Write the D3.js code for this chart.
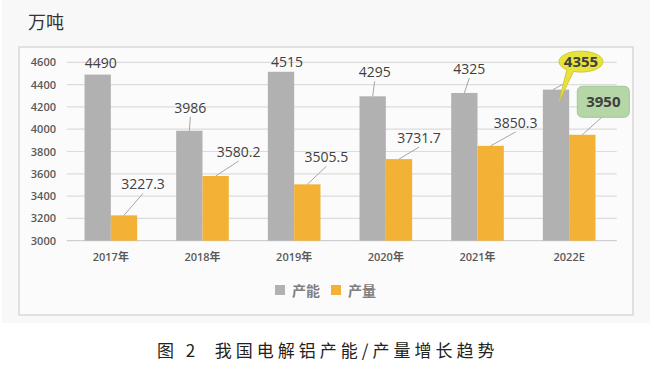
<!DOCTYPE html>
<html>
<head>
<meta charset="utf-8">
<script src="https://cdn.jsdelivr.net/npm/d3@7"></script>
<style>
  body { margin: 0; background: #fff; }
  svg { display: block; }
</style>
</head>
<body>
<svg id="chart" width="654" height="380"></svg>
<script>
const years = ["2017年", "2018年", "2019年", "2020年", "2021年", "2022E"]
const series = ["产能", "产量"]
const capacity = [4490, 3986, 4515, 4295, 4325, 4355]
const output = [3227.3, 3580.2, 3505.5, 3731.7, 3850.3, 3950]
const yTicks = [3000, 3200, 3400, 3600, 3800, 4000, 4200, 4400, 4600]

// label placement relative to bar top (dx, dy), and whether a leader line is drawn
const capLabelPos = [[3, -12, false], [1, -23, true], [6, -10, false], [2, -24, true], [5, -24, true], [25, -28, true]]
const outLabelPos = [[19, -31, true], [23, -24, true], [19, -27, true], [20, -21, true], [25, -23, true], [21, -33, true]]

const colours = ["#b1b1b2", "#f3b136"]

const svg = d3.select("#chart")

// page background + chart box
svg.append("rect").attr("x", 2).attr("y", 0).attr("width", 648).attr("height", 323).attr("fill", "#f8f8f8")
svg.append("rect").attr("x", 19).attr("y", 47).attr("width", 614).attr("height", 268)
  .attr("fill", "#fbfbfb").attr("stroke", "#d9d9d9").attr("stroke-width", 1.5)

svg.append("text").attr("x", 28).attr("y", 29)
  .attr("font-family", "Noto Sans CJK SC").attr("font-size", 18).attr("fill", "#333")
  .text("万吨")

const x = d3.scaleBand().domain(years).range([65, 615]).paddingInner(0.426).paddingOuter(0.213)
const xs = d3.scaleBand().domain(series).range([0, x.bandwidth()])
const y = d3.scaleLinear().domain([3000, 4600]).range([240.7, 62.3])

// gridlines
svg.append("g").selectAll("line").data(yTicks).join("line")
  .attr("x1", 66.7).attr("x2", 616.7)
  .attr("y1", d => y(d)).attr("y2", d => y(d))
  .attr("stroke", d => d == 3000 ? "#cfcfcf" : "#dcdcdc").attr("stroke-width", 1.2)

// y axis labels
const yAxis = svg.append("g").attr("transform", "translate(62,0)")
  .call(d3.axisLeft(y).tickValues(yTicks).tickFormat(d3.format("d")).tickSize(0).tickPadding(6))
yAxis.select(".domain").remove()
yAxis.selectAll("text").attr("font-family", "Open Sans").attr("font-size", 11)
  .attr("font-weight", 600).attr("fill", "#595959")

// x axis labels
const xAxis = svg.append("g").attr("transform", "translate(0,245)")
  .call(d3.axisBottom(x).tickSize(0).tickPadding(8))
xAxis.select(".domain").remove()
xAxis.selectAll("text").attr("font-family", "Open Sans, Noto Sans CJK SC").attr("font-size", 11)
  .attr("font-weight", 600).attr("fill", "#595959")

const rows = years.map((yr, i) => ({year: yr, vals: [capacity[i], output[i]], i: i}))

const groups = svg.append("g").selectAll("g").data(rows).join("g")
  .attr("transform", d => "translate(" + x(d.year) + ",0)")

groups.selectAll("rect").data(d => d.vals.map((v, k) => ({key: series[k], v: v, k: k}))).join("rect")
  .attr("x", d => xs(d.key))
  .attr("width", xs.bandwidth())
  .attr("y", d => y(d.v))
  .attr("height", d => y(3000) - y(d.v))
  .attr("fill", d => colours[d.k])

// data labels
const labels = svg.append("g")
function fmt(v){ return Number.isInteger(v) ? String(v) : v.toFixed(1) }

rows.forEach(r => {
  [0, 1].forEach(k => {
    const v = r.vals[k]
    const bx = x(r.year) + xs(series[k]) + xs.bandwidth() / 2
    const by = y(v)
    const pos = (k == 0 ? capLabelPos : outLabelPos)[r.i]
    const lx = bx + pos[0], ly = by + pos[1]
    const special = r.i == years.length - 1
    if (pos[2] && !special) {
      labels.append("line").attr("x1", lx).attr("y1", ly + 9).attr("x2", bx).attr("y2", by)
        .attr("stroke", "#a6a6a6").attr("stroke-width", 1)
    }
    if (special && k == 0) {
      labels.append("line").attr("x1", bx - 3).attr("y1", by).attr("x2", lx - 15).attr("y2", ly + 21)
        .attr("stroke", "#a6a6a6").attr("stroke-width", 1)
      const rx = 22, ry = 10.5
      const a1 = 110 * Math.PI / 180, a2 = 130 * Math.PI / 180
      const p1 = [lx + rx * Math.cos(a1), ly + ry * Math.sin(a1)]
      const p2 = [lx + rx * Math.cos(a2), ly + ry * Math.sin(a2)]
      const tip = [bx + 3, by + 12]
      labels.append("path")
        .attr("d", "M" + p1 + " A" + rx + " " + ry + " 0 1 0 " + p2 + " L" + tip + " Z")
        .attr("fill", "#e8e33c").attr("stroke", "#cfc93a").attr("stroke-width", 1)
      labels.append("text").attr("x", lx).attr("y", ly + 5.5).attr("text-anchor", "middle")
        .attr("font-family", "Open Sans").attr("font-size", 15).attr("font-weight", 700)
        .attr("fill", "#404040").text(fmt(v))
    } else if (special && k == 1) {
      labels.append("line").attr("x1", lx - 1).attr("y1", ly + 15).attr("x2", bx).attr("y2", by)
        .attr("stroke", "#a6a6a6").attr("stroke-width", 1)
      labels.append("rect").attr("x", lx - 26).attr("y", ly - 15.5).attr("width", 52).attr("height", 31)
        .attr("rx", 5).attr("fill", "#b5d6a6").attr("stroke", "#a2c793").attr("stroke-width", 1)
      labels.append("text").attr("x", lx).attr("y", ly + 5.5).attr("text-anchor", "middle")
        .attr("font-family", "Open Sans").attr("font-size", 15).attr("font-weight", 700)
        .attr("fill", "#404040").text(fmt(v))
    } else {
      labels.append("text").attr("x", lx).attr("y", ly + 5).attr("text-anchor", "middle")
        .attr("font-family", "Open Sans").attr("font-size", 14)
        .attr("fill", "#404040").text(fmt(v))
    }
  })
})

// legend
const legend = svg.append("g").attr("transform", "translate(275,285)")
const li = legend.selectAll("g").data(series).join("g")
  .attr("transform", (d, i) => "translate(" + (i * 56) + ",0)")
li.append("rect").attr("width", 10).attr("height", 10).attr("fill", (d, i) => colours[i])
li.append("text").attr("x", 17).attr("y", 10.5)
  .attr("font-family", "Noto Sans CJK SC").attr("font-size", 14).attr("font-weight", 700)
  .attr("fill", "#808080").text(d => d)

// caption
svg.append("text").attr("x", 157).attr("y", 357)
  .attr("font-family", "Noto Sans CJK SC").attr("font-size", 17).attr("fill", "#222")
  .attr("letter-spacing", "4px").attr("xml:space", "preserve")
  .text("图 2  我国电解铝产能/产量增长趋势")
</script>
</body>
</html>
